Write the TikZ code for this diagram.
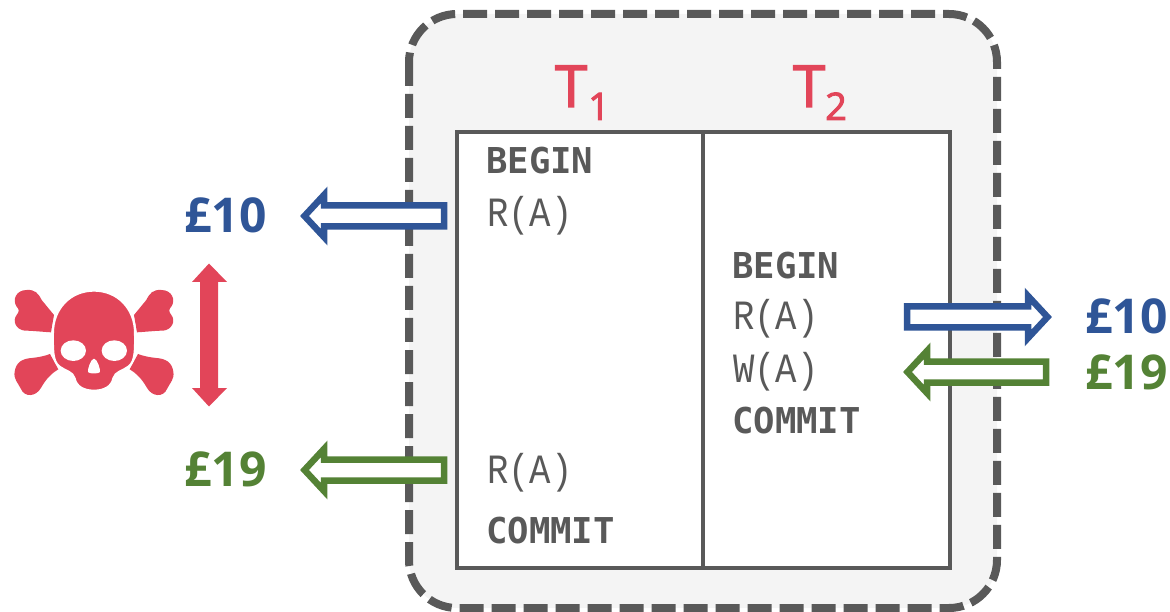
\documentclass[tikz,border=0pt]{standalone}
\usepackage{fontspec}
\setmainfont{Open Sans}
\newfontfamily\monofam{DejaVu Sans Mono}
\newfontfamily\monoreg{Liberation Mono}
\newfontfamily\titlefam[FakeBold=2.5]{Open Sans}
\definecolor{dgray}{HTML}{595959}
\definecolor{panel}{HTML}{F4F4F4}
\definecolor{crimson}{HTML}{E24559}
\definecolor{navy}{HTML}{2F5597}
\definecolor{leaf}{HTML}{548235}
\newcommand{\tallop}[1]{\scalebox{1}[1.17]{#1}}
\tikzset{
  opbold/.style={anchor=base west,inner sep=0pt,text=dgray,font=\monofam\bfseries\fontsize{35.6}{35}\selectfont},
  opthin/.style={anchor=base west,inner sep=0pt,text=dgray,font=\monoreg\fontsize{35.6}{35}\selectfont},
  money/.style={anchor=base west,inner sep=0pt,font=\bfseries\fontsize{48}{48}\selectfont},
  title/.style={anchor=base west,inner sep=0pt,text=crimson,font=\titlefam\fontsize{58}{58}\selectfont},
  subtitle/.style={anchor=base west,inner sep=0pt,text=crimson,font=\titlefam\fontsize{38}{38}\selectfont},
  hollow/.style={draw=#1,fill=white,line width=6.5pt,miter limit=10}
}
% colour, outer tip x, centre y, direction (1 = pointing right), total length
\newcommand{\hollowarrow}[5]{%
  \begin{scope}[shift={(#2,#3)},xscale=#4]
    \draw[hollow=#1] (-4.5,0) -- (-24,-21) -- (-24,-10.5) -- (-#5+3,-10.5) -- (-#5+3,10.5) -- (-24,10.5) -- (-24,21) -- cycle;
  \end{scope}}
\begin{document}
\begin{tikzpicture}[x=1pt,y=-1pt]
\useasboundingbox (0,0) rectangle (1170,612);
% outer panel
\draw[fill=panel,draw=dgray,line width=8pt,rounded corners=48pt,dash pattern=on 24pt off 8pt] (409,14) rectangle (997,608);
% table
\draw[fill=white,draw=dgray,line width=4pt] (457,132) rectangle (950,568);
\draw[dgray,line width=4pt] (703,132) -- (703,568);
% titles
\node[title] (t1) at (555,107) {T};
\node[subtitle] (t1s) at (588,120) {1};
\node[title] (t2) at (793,107) {T};
\node[subtitle] (t2s) at (825,120) {2};
% operations
\node[opbold] (b1) at (486,174) {BEGIN};
\node[opthin] (r1) at (487,227) {\tallop{R(A)}};
\node[opthin] (r2) at (487,483) {\tallop{R(A)}};
\node[opbold] (c1) at (486,543) {COMMIT};
\node[opbold] (b2) at (732,279) {BEGIN};
\node[opthin] (r3) at (733,330) {\tallop{R(A)}};
\node[opthin] (w3) at (733,382) {\tallop{W(A)}};
\node[opbold] (c2) at (732,433) {COMMIT};
% arrows
\hollowarrow{navy}{300}{216}{-1}{147}
\hollowarrow{leaf}{300}{470}{-1}{147}
\hollowarrow{navy}{1052}{317}{1}{148}
\hollowarrow{leaf}{903}{372}{-1}{146}
% values
\node[money,text=navy] (v1) at (184,233) {£10};
\node[money,text=leaf] (v2) at (184,486) {£19};
\node[money,text=navy] (v3) at (1085,334) {£10};
\node[money,text=leaf] (v4) at (1085,389) {£19};
% double arrow
\fill[crimson] (209,263.5) -- (227,282) -- (218,282) -- (218,388) -- (227,388) -- (209,406.5) -- (192,388) -- (200,388) -- (200,282) -- (192,282) -- cycle;
% skull and bones
\begin{scope}[shift={(0,250)},x=0.3333pt,y=-0.3333pt,crimson]
  \def\bones{
    \fill (162,195) -- (153,247) .. controls (120,245) and (95,242) .. (75,242) .. controls (48,240) and (36,212) .. (50,195) .. controls (58,185) and (58,178) .. (50,170) .. controls (36,150) and (48,120) .. (80,120) .. controls (105,118) and (115,130) .. (125,150) -- cycle;
    \fill (150,312) -- (175,358) .. controls (152,372) and (138,388) .. (124,412) .. controls (108,442) and (73,442) .. (63,417) .. controls (53,397) and (40,387) .. (44,365) .. controls (48,336) and (68,326) .. (95,324) .. controls (115,322) and (135,318) .. (150,312) -- cycle;
  }
  \bones
  \begin{scope}[shift={(564,0)},xscale=-1]\bones\end{scope}
  \draw[white,line width=2pt,fill=crimson] (282,122) .. controls (352,122) and (405,175) .. (405,250)
    .. controls (405,290) and (408,335) .. (385,350)
    .. controls (370,362) and (345,365) .. (340,385)
    .. controls (335,410) and (312,422) .. (282,422)
    .. controls (252,422) and (229,410) .. (224,385)
    .. controls (219,365) and (194,362) .. (179,350)
    .. controls (156,335) and (159,290) .. (159,250)
    .. controls (159,175) and (212,122) .. (282,122) -- cycle;
  \fill[white] (220,302) ellipse [x radius=38,y radius=31]
    (343,302) ellipse [x radius=38,y radius=31]
    (282,326) .. controls (292,326) and (302,360) .. (300,366) .. controls (298,372) and (266,372) .. (264,366) .. controls (262,360) and (272,326) .. (282,326) -- cycle;
\end{scope}
\end{tikzpicture}
\end{document}
